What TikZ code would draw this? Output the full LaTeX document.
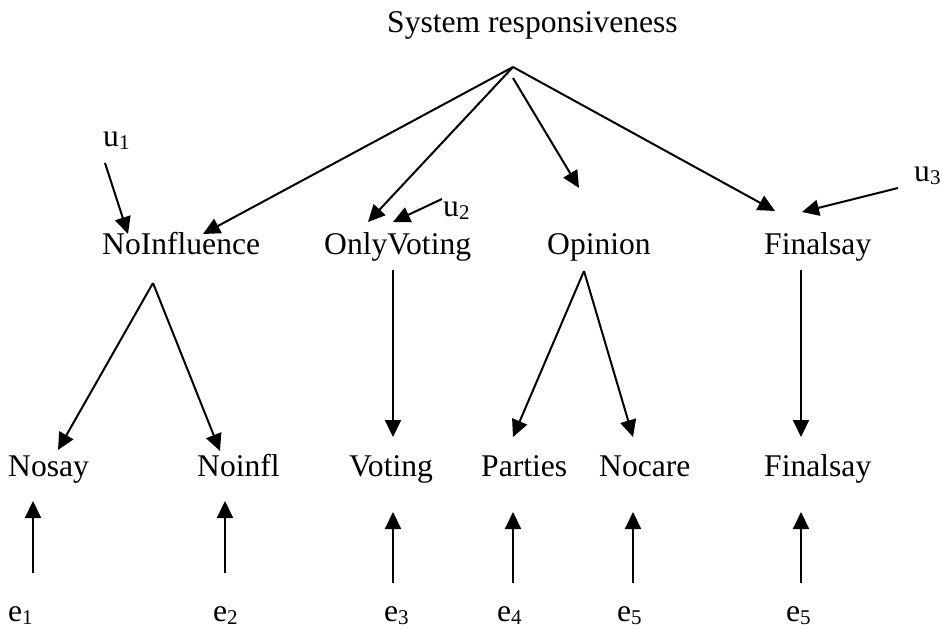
\documentclass[tikz,border=0pt]{standalone}
\usepackage{fontspec}
\setmainfont{Liberation Serif}
\usetikzlibrary{arrows.meta}
\newcommand{\mysub}[1]{\raisebox{-3pt}{\fontsize{21}{24}\selectfont #1}}
\begin{document}
\begin{tikzpicture}[x=1pt,y=-1pt,
  lbl/.style={inner sep=0pt,anchor=base west,font=\fontsize{31.6}{38}\selectfont},
  conn/.style={line width=2pt,-{Triangle[length=17pt,width=16pt]}}]
\useasboundingbox (0,0) rectangle (942,628);
% labels
\node[lbl] (sys) at (387,33) {System responsiveness};
\node[lbl] (noinfluence) at (102,255) {NoInfluence};
\node[lbl] (onlyvoting) at (324,255) {OnlyVoting};
\node[lbl] (opinion) at (547,255) {Opinion};
\node[lbl] (finalsay1) at (764,255) {Finalsay};
\node[lbl] (nosay) at (8,476) {Nosay};
\node[lbl] (noinfl) at (197,476) {Noinfl};
\node[lbl] (voting) at (349,476) {Voting};
\node[lbl] (parties) at (481,476) {Parties};
\node[lbl] (nocare) at (599,476) {Nocare};
\node[lbl] (finalsay2) at (764,476) {Finalsay};
\node[lbl] (u1) at (103,147) {u\mysub{1}};
\node[lbl] (u2) at (443,217) {u\mysub{2}};
\node[lbl] (u3) at (914,182) {u\mysub{3}};
\node[lbl] (e1) at (8,621) {e\mysub{1}};
\node[lbl] (e2) at (213,621) {e\mysub{2}};
\node[lbl] (e3) at (384,621) {e\mysub{3}};
\node[lbl] (e4) at (497,621) {e\mysub{4}};
\node[lbl] (e5a) at (617,621) {e\mysub{5}};
\node[lbl] (e5b) at (786,621) {e\mysub{5}};
% coordinates
\coordinate (apex) at (513,67);
\coordinate (apexb) at (513,78);
\coordinate (tNoInf) at (203,234);
\coordinate (tOnly) at (368,222);
\coordinate (tOpin) at (579,188);
\coordinate (tFin) at (775,211);
\coordinate (su1) at (105,163);
\coordinate (tu1) at (128,234);
\coordinate (su2) at (442,199);
\coordinate (tu2) at (393,222);
\coordinate (su3) at (898,188);
\coordinate (tu3) at (802,212);
\coordinate (aNI) at (153,283);
\coordinate (tNosay) at (58,450);
\coordinate (tNoinfl) at (220,451);
\coordinate (sOV) at (393,270);
\coordinate (tVoting) at (393,437);
\coordinate (aOp) at (584,271);
\coordinate (tParties) at (513,437);
\coordinate (tNocare) at (633,437);
\coordinate (sFS) at (801,270);
\coordinate (tFS) at (801,437);
\coordinate (se1) at (33,573);
\coordinate (te1) at (33,501);
\coordinate (se2) at (225,573);
\coordinate (te2) at (225,501);
\coordinate (se3) at (393,583);
\coordinate (te3) at (393,512);
\coordinate (se4) at (513,583);
\coordinate (te4) at (513,512);
\coordinate (se5) at (633,583);
\coordinate (te5) at (633,512);
\coordinate (se6) at (801,583);
\coordinate (te6) at (801,512);
% connectors
\draw[conn] (apex) -- (tNoInf);
\draw[conn] (apex) -- (tOnly);
\draw[conn] (apexb) -- (tOpin);
\draw[conn] (apex) -- (tFin);
\draw[conn] (su1) -- (tu1);
\draw[conn] (su2) -- (tu2);
\draw[conn] (su3) -- (tu3);
\draw[conn] (aNI) -- (tNosay);
\draw[conn] (aNI) -- (tNoinfl);
\draw[conn] (sOV) -- (tVoting);
\draw[conn] (aOp) -- (tParties);
\draw[conn] (aOp) -- (tNocare);
\draw[conn] (sFS) -- (tFS);
\draw[conn] (se1) -- (te1);
\draw[conn] (se2) -- (te2);
\draw[conn] (se3) -- (te3);
\draw[conn] (se4) -- (te4);
\draw[conn] (se5) -- (te5);
\draw[conn] (se6) -- (te6);
\end{tikzpicture}
\end{document}
